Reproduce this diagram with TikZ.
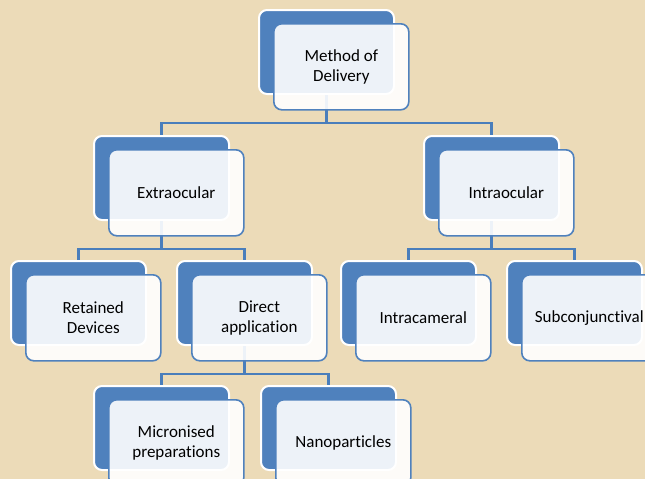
\documentclass[tikz,border=0pt]{standalone}
\usepackage{fontspec}
\setmainfont[Ligatures={NoCommon}]{Carlito}
\definecolor{bg}{HTML}{ECDBB8}
\definecolor{bl}{HTML}{4F81BD}
\definecolor{ln}{HTML}{4A7EBB}
\tikzset{
  backbox/.style={draw=white, line width=2pt, fill=bl, rounded corners=8pt,
    minimum width=135pt, minimum height=84pt, anchor=north west, inner sep=0pt},
  frontbox/.style={draw=bl, line width=1.6pt, fill=white, fill opacity=0.9, text opacity=1,
    rounded corners=8pt, minimum width=135pt, minimum height=86pt, anchor=north west,
    align=center, font=\fontsize{17}{19.5}\selectfont, text=black, inner sep=0pt},
  conn/.style={draw=ln, line width=2.5pt}
}
\begin{document}
\begin{tikzpicture}[x=1pt,y=-1pt]
\useasboundingbox (0,0) rectangle (645,479);
\clip (0,0) rectangle (645,479);
\fill[bg] (0,0) rectangle (645,479);
% back boxes
\node[backbox] (top-b)  at (258,9) {};
\node[backbox] (ext-b)  at (93,135) {};
\node[backbox] (int-b)  at (423,135) {};
\node[backbox] (ret-b)  at (10,260) {};
\node[backbox] (dir-b)  at (176,260) {};
\node[backbox] (cam-b)  at (340,260) {};
\node[backbox] (sub-b)  at (506,260) {};
\node[backbox] (mic-b)  at (93,385) {};
\node[backbox] (nan-b)  at (260,385) {};
% connectors
\draw[conn] (top-b.south) -- ++(0,28) -| (ext-b.north);
\draw[conn] (top-b.south) -- ++(0,28) -| (int-b.north);
\draw[conn] (ext-b.south) -- ++(0,28) -| (ret-b.north);
\draw[conn] (ext-b.south) -- ++(0,28) -| (dir-b.north);
\draw[conn] (int-b.south) -- ++(0,28) -| (cam-b.north);
\draw[conn] (int-b.south) -- ++(0,28) -| (sub-b.north);
\draw[conn] (dir-b.south) -- ++(0,28) -| (mic-b.north);
\draw[conn] (dir-b.south) -- ++(0,28) -| (nan-b.north);
% front boxes
\node[frontbox] (top) at (273,23)  {Method of\\Delivery};
\node[frontbox] (ext) at (108,149) {Extraocular};
\node[frontbox] (int) at (438,149) {Intraocular};
\node[frontbox] (ret) at (25,274)  {Retained\\Devices};
\node[frontbox] (dir) at (191,274) {Direct\\application};
\node[frontbox] (cam) at (355,274) {Intracameral};
\node[frontbox] (sub) at (521,274) {Subconjunctival};
\node[frontbox] (mic) at (108,399) {Micronised\\preparations};
\node[frontbox] (nan) at (275,399) {Nanoparticles};
\end{tikzpicture}
\end{document}
